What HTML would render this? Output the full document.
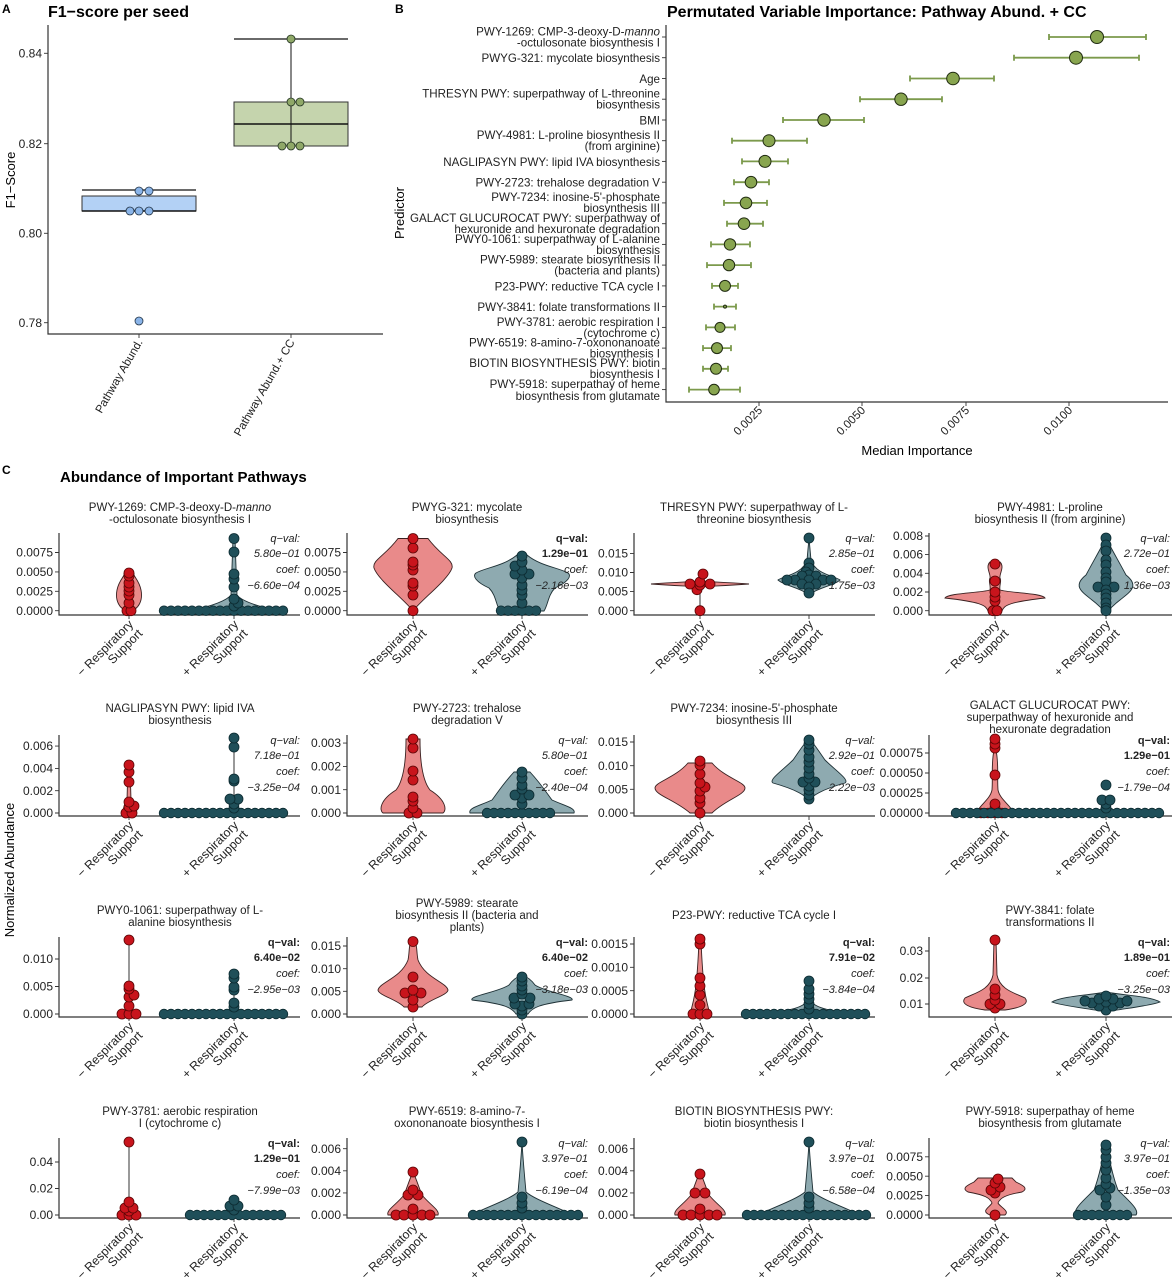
<!DOCTYPE html>
<html><head><meta charset="utf-8"><style>
body{margin:0;background:#fff}
svg{display:block;font-family:"Liberation Sans",sans-serif}
.tk{font-size:12px;fill:#222;text-anchor:end}
.ti{font-size:11.5px;fill:#222;text-anchor:middle}
.lb{font-size:12.3px;fill:#222;text-anchor:end}
.lbA{font-size:11.5px;fill:#222;text-anchor:end}
.q{font-size:11px;fill:#222;text-anchor:end;font-style:italic}
.qb{font-size:11px;fill:#222;text-anchor:end;font-weight:bold}
.ax{stroke:#333;stroke-width:1.2;fill:none}
.rv{fill:#e98a8a;stroke:#3a2020;stroke-width:0.9}
.tv{fill:#8eaab0;stroke:#1d3035;stroke-width:0.9}
.zr{stroke:#0c2a30;stroke-width:10.4;stroke-linecap:round;stroke-dasharray:0 7}
.zf{stroke:#1f4f59;stroke-width:8.8;stroke-linecap:round;stroke-dasharray:0 7}
.tl{stroke:#333;stroke-width:0.9}
.eb{stroke:#7c9a4c;stroke-width:1.8;fill:none}
.bp{fill:#88a54f;stroke:#1f2a10;stroke-width:1}
</style></head><body>
<svg width="1175" height="1279" viewBox="0 0 1175 1279" xmlns="http://www.w3.org/2000/svg">
<defs>
<circle id="r" cx="0" cy="0" r="5" fill="#c8141c" stroke="#5a0505" stroke-width="0.8"/>
<circle id="t" cx="0" cy="0" r="5" fill="#1f4f59" stroke="#0c2a30" stroke-width="0.8"/>
</defs>

<!-- PANEL A -->
<text x="2" y="13" font-size="12" font-weight="bold">A</text>
<text x="48" y="17" font-size="16" font-weight="bold">F1−score per seed</text>
<path class="ax" d="M48,25 V334 H383"/>
<g class="tl"><line x1="44" y1="53.3" x2="48" y2="53.3"/><line x1="44" y1="143.7" x2="48" y2="143.7"/><line x1="44" y1="233.3" x2="48" y2="233.3"/><line x1="44" y1="322.7" x2="48" y2="322.7"/><line x1="139" y1="334" x2="139" y2="338"/><line x1="291" y1="334" x2="291" y2="338"/></g>
<text class="tk" x="42" y="57.5">0.84</text><text class="tk" x="42" y="148">0.82</text><text class="tk" x="42" y="237.5">0.80</text><text class="tk" x="42" y="327">0.78</text>
<text transform="translate(15,180) rotate(-90)" font-size="13" text-anchor="middle">F1−Score</text>
<line x1="82" y1="190" x2="196" y2="190" stroke="#111" stroke-width="1.2"/>
<line x1="139" y1="190" x2="139" y2="196" stroke="#111"/>
<rect x="82" y="196" width="114" height="15" fill="#b3d1f5" stroke="#333" stroke-width="1"/>
<line x1="82" y1="211" x2="196" y2="211" stroke="#111" stroke-width="1.6"/>
<g fill="#8ab4e8" stroke="#234" stroke-width="0.8"><circle cx="139" cy="191" r="4"/><circle cx="149" cy="191" r="4"/><circle cx="130" cy="211" r="4"/><circle cx="139" cy="211" r="4"/><circle cx="149" cy="211" r="4"/><circle cx="139" cy="321" r="4"/></g>
<line x1="234" y1="39" x2="348" y2="39" stroke="#111" stroke-width="1.2"/>
<rect x="234" y="102" width="114" height="44" fill="#c5d4ad" stroke="#333" stroke-width="1"/>
<line x1="291" y1="39" x2="291" y2="146" stroke="#111"/>
<line x1="234" y1="124" x2="348" y2="124" stroke="#111" stroke-width="1.4"/>
<g fill="#8fa868" stroke="#232" stroke-width="0.8"><circle cx="291" cy="39" r="4"/><circle cx="291" cy="102" r="4"/><circle cx="300" cy="102" r="4"/><circle cx="282" cy="146" r="4"/><circle cx="291" cy="146" r="4"/><circle cx="300" cy="146" r="4"/></g>
<text class="lbA" transform="translate(143,342) rotate(-60)">Pathway Abund.</text>
<text class="lbA" transform="translate(295,342) rotate(-60)">Pathway Abund.+ CC</text>

<!-- PANEL B -->
<text x="395" y="13" font-size="12" font-weight="bold">B</text>
<text x="667" y="17" font-size="16" font-weight="bold">Permutated Variable Importance: Pathway Abund. + CC</text>
<path class="ax" d="M666,25 V402 H1168"/>
<text transform="translate(404,213) rotate(-90)" font-size="13" text-anchor="middle">Predictor</text>
<g class="tl">
<line x1="662" y1="37" x2="666" y2="37"/><line x1="662" y1="57.7" x2="666" y2="57.7"/><line x1="662" y1="78.5" x2="666" y2="78.5"/><line x1="662" y1="99.2" x2="666" y2="99.2"/><line x1="662" y1="120" x2="666" y2="120"/><line x1="662" y1="140.7" x2="666" y2="140.7"/><line x1="662" y1="161.4" x2="666" y2="161.4"/><line x1="662" y1="182.2" x2="666" y2="182.2"/><line x1="662" y1="202.9" x2="666" y2="202.9"/><line x1="662" y1="223.7" x2="666" y2="223.7"/><line x1="662" y1="244.4" x2="666" y2="244.4"/><line x1="662" y1="265.1" x2="666" y2="265.1"/><line x1="662" y1="285.9" x2="666" y2="285.9"/><line x1="662" y1="306.6" x2="666" y2="306.6"/><line x1="662" y1="327.4" x2="666" y2="327.4"/><line x1="662" y1="348.1" x2="666" y2="348.1"/><line x1="662" y1="368.8" x2="666" y2="368.8"/><line x1="662" y1="389.6" x2="666" y2="389.6"/>
<line x1="759" y1="402" x2="759" y2="406"/><line x1="862" y1="402" x2="862" y2="406"/><line x1="966" y1="402" x2="966" y2="406"/><line x1="1069" y1="402" x2="1069" y2="406"/>
</g>
<g font-size="11.6" text-anchor="end" fill="#222">
<text x="660" y="35.5">PWY-1269: CMP-3-deoxy-D-<tspan font-style="italic">manno</tspan></text><text x="660" y="46.5">-octulosonate biosynthesis I</text>
<text x="660" y="62">PWYG-321: mycolate biosynthesis</text>
<text x="660" y="83">Age</text>
<text x="660" y="97.5">THRESYN PWY: superpathway of L-threonine</text><text x="660" y="108.5">biosynthesis</text>
<text x="660" y="124.5">BMI</text>
<text x="660" y="139">PWY-4981: L-proline biosynthesis II</text><text x="660" y="150">(from arginine)</text>
<text x="660" y="166">NAGLIPASYN PWY: lipid IVA biosynthesis</text>
<text x="660" y="186.5">PWY-2723: trehalose degradation V</text>
<text x="660" y="201">PWY-7234: inosine-5'-phosphate</text><text x="660" y="212">biosynthesis III</text>
<text x="660" y="222">GALACT GLUCUROCAT PWY: superpathway of</text><text x="660" y="233">hexuronide and hexuronate degradation</text>
<text x="660" y="243">PWY0-1061: superpathway of L-alanine</text><text x="660" y="254">biosynthesis</text>
<text x="660" y="263.5">PWY-5989: stearate biosynthesis II</text><text x="660" y="274.5">(bacteria and plants)</text>
<text x="660" y="290.5">P23-PWY: reductive TCA cycle I</text>
<text x="660" y="311">PWY-3841: folate transformations II</text>
<text x="660" y="326">PWY-3781: aerobic respiration I</text><text x="660" y="337">(cytochrome c)</text>
<text x="660" y="346.5">PWY-6519: 8-amino-7-oxononanoate</text><text x="660" y="357.5">biosynthesis I</text>
<text x="660" y="367">BIOTIN BIOSYNTHESIS PWY: biotin</text><text x="660" y="378">biosynthesis I</text>
<text x="660" y="388">PWY-5918: superpathay of heme</text><text x="660" y="400">biosynthesis from glutamate</text>
</g>
<g class="eb">
<path d="M1049,37H1146M1049,34v6M1146,34v6"/>
<path d="M1014,57.7H1139M1014,54.7v6M1139,54.7v6"/>
<path d="M910,78.5H994M910,75.5v6M994,75.5v6"/>
<path d="M860,99.2H942M860,96.2v6M942,96.2v6"/>
<path d="M783,120H864M783,117v6M864,117v6"/>
<path d="M732,140.7H807M732,137.7v6M807,137.7v6"/>
<path d="M742,161.4H788M742,158.4v6M788,158.4v6"/>
<path d="M734,182.2H769M734,179.2v6M769,179.2v6"/>
<path d="M724,202.9H767M724,199.9v6M767,199.9v6"/>
<path d="M727,223.7H763M727,220.7v6M763,220.7v6"/>
<path d="M711,244.4H750M711,241.4v6M750,241.4v6"/>
<path d="M707,265.1H751M707,262.1v6M751,262.1v6"/>
<path d="M712,285.9H738M712,282.9v6M738,282.9v6"/>
<path d="M714,306.6H736M714,303.6v6M736,303.6v6"/>
<path d="M706,327.4H735M706,324.4v6M735,324.4v6"/>
<path d="M703,348.1H731M703,345.1v6M731,345.1v6"/>
<path d="M703,368.8H728M703,365.8v6M728,365.8v6"/>
<path d="M689,389.6H740M689,386.6v6M740,386.6v6"/>
</g>
<g class="bp">
<circle cx="1097" cy="37" r="6.5"/><circle cx="1076" cy="57.7" r="6.5"/><circle cx="953" cy="78.5" r="6.3"/><circle cx="901" cy="99.2" r="6.2"/><circle cx="824" cy="120" r="6.2"/><circle cx="769" cy="140.7" r="6"/><circle cx="765" cy="161.4" r="6"/><circle cx="751" cy="182.2" r="5.8"/><circle cx="746" cy="202.9" r="5.8"/><circle cx="744" cy="223.7" r="5.8"/><circle cx="730" cy="244.4" r="5.7"/><circle cx="729" cy="265.1" r="5.7"/><circle cx="725" cy="285.9" r="5.5"/><circle cx="725" cy="306.6" r="1.5"/><circle cx="720" cy="327.4" r="5"/><circle cx="717" cy="348.1" r="5.5"/><circle cx="716" cy="368.8" r="5.5"/><circle cx="714" cy="389.6" r="5.3"/>
</g>
<text class="lbA" transform="translate(763,411) rotate(-45)">0.0025</text>
<text class="lbA" transform="translate(866,411) rotate(-45)">0.0050</text>
<text class="lbA" transform="translate(970,411) rotate(-45)">0.0075</text>
<text class="lbA" transform="translate(1073,411) rotate(-45)">0.0100</text>
<text x="917" y="455" font-size="13" text-anchor="middle">Median Importance</text>

<!-- PANEL C -->
<text x="2" y="474" font-size="12" font-weight="bold">C</text>
<text x="60" y="482" font-size="15" font-weight="bold">Abundance of Important Pathways</text>
<text transform="translate(14,870) rotate(-90)" font-size="13" text-anchor="middle">Normalized Abundance</text>

<g class="ax">
<path d="M59,533V615H300"/><path d="M347,533V615H588"/><path d="M634,533V615H875"/><path d="M929,533V615H1172"/>
<path d="M59,735V816H300"/><path d="M347,735V816H588"/><path d="M634,735V816H875"/><path d="M929,735V816H1172"/>
<path d="M59,937V1017H300"/><path d="M347,937V1017H588"/><path d="M634,937V1017H875"/><path d="M929,937V1017H1172"/>
<path d="M59,1138V1218H300"/><path d="M347,1138V1218H588"/><path d="M634,1138V1218H875"/><path d="M929,1138V1218H1172"/>
</g>
<g class="tl">
<path d="M129,615v4M234,615v4M413,615v4M522,615v4M700,615v4M809,615v4M995,615v4M1106,615v4"/>
<path d="M129,816v4M234,816v4M413,816v4M522,816v4M700,816v4M809,816v4M995,816v4M1106,816v4"/>
<path d="M129,1017v4M234,1017v4M413,1017v4M522,1017v4M700,1017v4M809,1017v4M995,1017v4M1106,1017v4"/>
<path d="M129,1218v4M234,1218v4M413,1218v4M522,1218v4M700,1218v4M809,1218v4M995,1218v4M1106,1218v4"/>
<path d="M55,610.7h4M55,591.3h4M55,571.9h4M55,552.5h4M343,610.7h4M343,591.3h4M343,571.9h4M343,552.5h4M630,610.7h4M630,591.6h4M630,572.5h4M630,553.4h4M925,610.7h4M925,592h4M925,573.3h4M925,554.6h4M925,536h4"/>
<path d="M55,813h4M55,790.7h4M55,768.4h4M55,746.1h4M343,813h4M343,789.7h4M343,766.4h4M343,743.1h4M630,813h4M630,789.3h4M630,765.7h4M630,742h4M925,813h4M925,793h4M925,773h4M925,753h4"/>
<path d="M55,1014h4M55,986.5h4M55,959h4M343,1014h4M343,991.3h4M343,968.7h4M343,946h4M630,1014h4M630,990.7h4M630,967.3h4M630,944h4M925,1004h4M925,978h4M925,951h4"/>
<path d="M55,1215h4M55,1188.5h4M55,1162h4M343,1215h4M343,1192.9h4M343,1170.8h4M343,1148.7h4M630,1215h4M630,1192.9h4M630,1170.8h4M630,1148.7h4M925,1215h4M925,1195.6h4M925,1176.2h4M925,1156.8h4"/>
</g>
<g class="tk">
<text x="53" y="615">0.0000</text><text x="53" y="595.5">0.0025</text><text x="53" y="576">0.0050</text><text x="53" y="556.5">0.0075</text>
<text x="341" y="615">0.0000</text><text x="341" y="595.5">0.0025</text><text x="341" y="576">0.0050</text><text x="341" y="556.5">0.0075</text>
<text x="628" y="615">0.000</text><text x="628" y="595.7">0.005</text><text x="628" y="576.6">0.010</text><text x="628" y="557.5">0.015</text>
<text x="923" y="615">0.000</text><text x="923" y="596">0.002</text><text x="923" y="577.4">0.004</text><text x="923" y="558.7">0.006</text><text x="923" y="540">0.008</text>
<text x="53" y="817">0.000</text><text x="53" y="794.8">0.002</text><text x="53" y="772.5">0.004</text><text x="53" y="750.2">0.006</text>
<text x="341" y="817">0.000</text><text x="341" y="793.8">0.001</text><text x="341" y="770.5">0.002</text><text x="341" y="747.2">0.003</text>
<text x="628" y="817">0.000</text><text x="628" y="793.4">0.005</text><text x="628" y="769.8">0.010</text><text x="628" y="746">0.015</text>
<text x="923" y="817">0.00000</text><text x="923" y="797">0.00025</text><text x="923" y="777">0.00050</text><text x="923" y="757">0.00075</text>
<text x="53" y="1018">0.000</text><text x="53" y="990.6">0.005</text><text x="53" y="963">0.010</text>
<text x="341" y="1018">0.000</text><text x="341" y="995.4">0.005</text><text x="341" y="972.8">0.010</text><text x="341" y="950">0.015</text>
<text x="628" y="1018">0.0000</text><text x="628" y="994.8">0.0005</text><text x="628" y="971.4">0.0010</text><text x="628" y="948">0.0015</text>
<text x="923" y="1008">0.01</text><text x="923" y="982">0.02</text><text x="923" y="955">0.03</text>
<text x="53" y="1219">0.00</text><text x="53" y="1192.6">0.02</text><text x="53" y="1166">0.04</text>
<text x="341" y="1219">0.000</text><text x="341" y="1197">0.002</text><text x="341" y="1174.9">0.004</text><text x="341" y="1152.8">0.006</text>
<text x="628" y="1219">0.000</text><text x="628" y="1197">0.002</text><text x="628" y="1174.9">0.004</text><text x="628" y="1152.8">0.006</text>
<text x="923" y="1219">0.0000</text><text x="923" y="1199.7">0.0025</text><text x="923" y="1180.3">0.0050</text><text x="923" y="1160.9">0.0075</text>
</g>

<g class="ti">
<text x="180" y="511">PWY-1269: CMP-3-deoxy-D-<tspan font-style="italic">manno</tspan></text><text x="180" y="523">-octulosonate biosynthesis I</text>
<text x="467" y="511">PWYG-321: mycolate</text><text x="467" y="523">biosynthesis</text>
<text x="754" y="511">THRESYN PWY: superpathway of L-</text><text x="754" y="523">threonine biosynthesis</text>
<text x="1050" y="511">PWY-4981: L-proline</text><text x="1050" y="523">biosynthesis II (from arginine)</text>
<text x="180" y="712">NAGLIPASYN PWY: lipid IVA</text><text x="180" y="724">biosynthesis</text>
<text x="467" y="712">PWY-2723: trehalose</text><text x="467" y="724">degradation V</text>
<text x="754" y="712">PWY-7234: inosine-5'-phosphate</text><text x="754" y="724">biosynthesis III</text>
<text x="1050" y="709">GALACT GLUCUROCAT PWY:</text><text x="1050" y="721">superpathway of hexuronide and</text><text x="1050" y="733">hexuronate degradation</text>
<text x="180" y="914">PWY0-1061: superpathway of L-</text><text x="180" y="926">alanine biosynthesis</text>
<text x="467" y="907">PWY-5989: stearate</text><text x="467" y="919">biosynthesis II (bacteria and</text><text x="467" y="931">plants)</text>
<text x="754" y="919">P23-PWY: reductive TCA cycle I</text>
<text x="1050" y="914">PWY-3841: folate</text><text x="1050" y="926">transformations II</text>
<text x="180" y="1115">PWY-3781: aerobic respiration</text><text x="180" y="1127">I (cytochrome c)</text>
<text x="467" y="1115">PWY-6519: 8-amino-7-</text><text x="467" y="1127">oxononanoate biosynthesis I</text>
<text x="754" y="1115">BIOTIN BIOSYNTHESIS PWY:</text><text x="754" y="1127">biotin biosynthesis I</text>
<text x="1050" y="1115">PWY-5918: superpathay of heme</text><text x="1050" y="1127">biosynthesis from glutamate</text>
</g>

<!-- P1 -->
<path class="rv" d="M129,611 C119,610 115,600 117,590 C119,580 125,576 124,574 L134,574 C133,576 139,580 141,590 C143,600 139,610 129,611Z"/>
<path class="tv" d="M190,611 Q225,603 231,595 L233,539 L235,539 L237,595 Q243,603 278,611 Z"/>
<g><use href="#r" x="127" y="610.7"/><use href="#r" x="131" y="610.7"/><use href="#r" x="129" y="603"/><use href="#r" x="129" y="595"/><use href="#r" x="129" y="591"/><use href="#r" x="129" y="587"/><use href="#r" x="129" y="583"/><use href="#r" x="129" y="576"/><use href="#r" x="129" y="573"/></g>
<line class="zr" x1="164" y1="610.7" x2="290" y2="610.7"/><line class="zf" x1="164" y1="610.7" x2="290" y2="610.7"/>
<g><use href="#t" x="234" y="606"/><use href="#t" x="238" y="603"/><use href="#t" x="234" y="599"/><use href="#t" x="234" y="587"/><use href="#t" x="234" y="579"/><use href="#t" x="234" y="574"/><use href="#t" x="234" y="552"/><use href="#t" x="234" y="538.5"/></g>
<!-- P2 -->
<path class="rv" d="M413,611 C405,600 378,580 374,568 C372,560 385,556 398,538.5 L428,538.5 C441,556 454,560 452,568 C448,580 421,600 413,611Z"/>
<path class="tv" d="M500,611 L544,611 C548,605 548,595 555,588 C568,582 572,576 568,573 C560,568 540,566 527,555 L517,555 C504,566 484,568 476,573 C472,576 476,582 489,588 C496,595 496,605 500,611Z"/>
<g><use href="#r" x="413" y="610.7"/><use href="#r" x="413" y="595"/><use href="#r" x="413" y="586"/><use href="#r" x="413" y="583"/><use href="#r" x="413" y="570"/><use href="#r" x="413" y="565"/><use href="#r" x="413" y="562"/><use href="#r" x="413" y="548"/><use href="#r" x="413" y="538.5"/></g>
<line class="zr" x1="501" y1="610.7" x2="543" y2="610.7"/><line class="zf" x1="501" y1="610.7" x2="543" y2="610.7"/>
<g><use href="#t" x="522" y="603"/><use href="#t" x="522" y="595"/><use href="#t" x="522" y="590"/><use href="#t" x="522" y="585"/><use href="#t" x="522" y="578"/><use href="#t" x="515" y="574"/><use href="#t" x="529" y="574"/><use href="#t" x="522" y="570"/><use href="#t" x="515" y="566"/><use href="#t" x="522" y="562"/><use href="#t" x="522" y="556"/></g>
<!-- P3 -->
<line x1="700" y1="574" x2="700" y2="611" stroke="#333"/>
<path class="rv" d="M651,584 C680,582 690,582 700,581 C710,582 720,582 749,584 C720,586 710,586 700,587 C690,586 680,586 651,584Z"/>
<g><use href="#r" x="700" y="610.7"/><use href="#r" x="697" y="589.7"/><use href="#r" x="690" y="584"/><use href="#r" x="710" y="584"/><use href="#r" x="700" y="585"/><use href="#r" x="700" y="582"/><use href="#r" x="703" y="574"/></g>
<path class="tv" d="M809,538 L811,560 C815,574 835,576 840,580 C835,585 818,588 812,593 L809,594 L806,593 C800,588 783,585 778,580 C783,576 803,574 807,560 Z"/>
<g><use href="#t" x="809" y="538"/><use href="#t" x="809" y="563"/><use href="#t" x="809" y="568"/><use href="#t" x="806" y="572"/><use href="#t" x="809" y="575"/><use href="#t" x="816" y="576"/><use href="#t" x="802" y="576"/><use href="#t" x="795" y="580"/><use href="#t" x="823" y="580"/><use href="#t" x="787" y="580"/><use href="#t" x="831" y="580"/><use href="#t" x="809" y="580"/><use href="#t" x="802" y="584"/><use href="#t" x="816" y="584"/><use href="#t" x="809" y="587"/><use href="#t" x="809" y="593"/></g>
<!-- P4 -->
<path class="rv" d="M988,611 L1002,611 C1004,605 1010,602 1045,598 C1042,593 1010,593 1000,590 C999,585 1002,581 1000,578 C999,574 1005,567 1000,562 L990,562 C985,567 991,574 990,578 C988,581 991,585 990,590 C980,593 948,593 945,598 C980,602 986,605 988,611Z"/>
<g><use href="#r" x="993" y="610.7"/><use href="#r" x="997" y="610.7"/><use href="#r" x="995" y="601"/><use href="#r" x="995" y="597"/><use href="#r" x="995" y="592"/><use href="#r" x="995" y="581"/><use href="#r" x="995" y="564"/></g>
<path class="tv" d="M1106,538 C1112,550 1118,560 1126,575 C1140,586 1130,592 1120,600 C1112,606 1110,610 1106,611 C1102,610 1100,606 1092,600 C1082,592 1072,586 1086,575 C1094,560 1100,550 1106,538Z"/>
<g><use href="#t" x="1106" y="538"/><use href="#t" x="1106" y="545"/><use href="#t" x="1106" y="551"/><use href="#t" x="1106" y="560"/><use href="#t" x="1106" y="565"/><use href="#t" x="1106" y="572"/><use href="#t" x="1106" y="578"/><use href="#t" x="1106" y="582"/><use href="#t" x="1098" y="587"/><use href="#t" x="1114" y="587"/><use href="#t" x="1106" y="590"/><use href="#t" x="1106" y="594"/><use href="#t" x="1106" y="598"/><use href="#t" x="1106" y="603"/><use href="#t" x="1106" y="608"/><use href="#t" x="1106" y="610.7"/></g>

<!-- P5 -->
<path class="rv" d="M129,813 C120,812 124,806 127,800 L128,765 L130,765 L131,800 C134,806 138,812 129,813Z"/>
<g><use href="#r" x="126" y="813"/><use href="#r" x="132" y="813"/><use href="#r" x="129" y="807"/><use href="#r" x="134" y="806"/><use href="#r" x="129" y="802"/><use href="#r" x="129" y="782"/><use href="#r" x="129" y="772"/><use href="#r" x="129" y="765"/></g>
<line x1="234" y1="738" x2="234" y2="813" stroke="#333"/>
<line class="zr" x1="164" y1="813" x2="290" y2="813"/><line class="zf" x1="164" y1="813" x2="290" y2="813"/>
<g><use href="#t" x="234" y="808"/><use href="#t" x="234" y="804"/><use href="#t" x="238" y="799"/><use href="#t" x="230" y="799"/><use href="#t" x="234" y="781"/><use href="#t" x="234" y="779"/><use href="#t" x="234" y="747"/><use href="#t" x="234" y="738"/></g>
<!-- P6 -->
<path class="rv" d="M383,813 L443,813 C447,810 446,800 430,790 C422,780 420,760 420,739 L406,739 C406,760 404,780 396,790 C380,800 379,810 383,813Z"/>
<g><use href="#r" x="409" y="813"/><use href="#r" x="417" y="813"/><use href="#r" x="413" y="808"/><use href="#r" x="413" y="801"/><use href="#r" x="413" y="797"/><use href="#r" x="413" y="780"/><use href="#r" x="413" y="771"/><use href="#r" x="413" y="748"/><use href="#r" x="413" y="739"/></g>
<path class="tv" d="M470,813 L574,813 C576,808 565,806 552,800 C548,795 542,785 530,772 L514,772 C502,785 496,795 492,800 C479,806 468,808 470,813Z"/>
<line class="zr" x1="487" y1="813" x2="557" y2="813"/><line class="zf" x1="487" y1="813" x2="557" y2="813"/>
<g><use href="#t" x="522" y="804"/><use href="#t" x="522" y="798"/><use href="#t" x="515" y="795"/><use href="#t" x="529" y="795"/><use href="#t" x="522" y="789"/><use href="#t" x="522" y="785"/><use href="#t" x="522" y="778"/><use href="#t" x="522" y="772"/></g>
<!-- P7 -->
<path class="rv" d="M690,813 L712,813 C725,800 745,795 745,788 C745,782 725,778 712,763 L688,763 C675,778 655,782 655,788 C655,795 675,800 690,813Z"/>
<g><use href="#r" x="700" y="813"/><use href="#r" x="700" y="803"/><use href="#r" x="700" y="798"/><use href="#r" x="700" y="791"/><use href="#r" x="705" y="787"/><use href="#r" x="700" y="783"/><use href="#r" x="700" y="774"/><use href="#r" x="700" y="765"/><use href="#r" x="700" y="761"/></g>
<path class="tv" d="M809,799.8 C813,796 820,790 845,783 C850,780 835,770 825,760 C818,750 813,742 809,739.6 C805,742 800,750 793,760 C783,770 768,780 773,783 C798,790 805,796 809,799.8Z"/>
<g><use href="#t" x="809" y="799"/><use href="#t" x="809" y="795"/><use href="#t" x="809" y="790"/><use href="#t" x="809" y="786"/><use href="#t" x="803" y="782"/><use href="#t" x="815" y="782"/><use href="#t" x="809" y="778"/><use href="#t" x="809" y="774"/><use href="#t" x="809" y="768"/><use href="#t" x="809" y="762"/><use href="#t" x="809" y="757"/><use href="#t" x="809" y="750"/><use href="#t" x="809" y="744"/><use href="#t" x="809" y="740"/></g>
<!-- P8 -->
<line x1="995" y1="738" x2="995" y2="813" stroke="#333"/>
<path class="rv" d="M977,813 L1013,813 C1012,806 1000,800 998,790 C997,775 999,765 996,750 L994,750 C991,765 993,775 992,790 C990,800 978,806 977,813Z"/>
<line class="zr" x1="981" y1="813" x2="1009" y2="813" style="stroke:#5a0505"/><line class="zf" x1="981" y1="813" x2="1009" y2="813" style="stroke:#c8141c"/>
<g><use href="#r" x="995" y="808"/><use href="#r" x="995" y="804"/><use href="#r" x="995" y="775"/><use href="#r" x="995" y="748"/><use href="#r" x="995" y="744"/><use href="#r" x="995" y="739"/></g>
<line class="zr" x1="956" y1="813" x2="1166" y2="813"/><line class="zf" x1="956" y1="813" x2="1166" y2="813"/>
<g><use href="#t" x="1106" y="808"/><use href="#t" x="1106" y="804"/><use href="#t" x="1102" y="800"/><use href="#t" x="1110" y="800"/><use href="#t" x="1106" y="785"/></g>

<!-- P9 -->
<line x1="129" y1="940" x2="129" y2="1014" stroke="#333"/>
<g><use href="#r" x="122" y="1014"/><use href="#r" x="129" y="1014"/><use href="#r" x="136" y="1014"/><use href="#r" x="129" y="1006"/><use href="#r" x="129" y="997"/><use href="#r" x="134" y="995"/><use href="#r" x="129" y="989"/><use href="#r" x="129" y="986"/><use href="#r" x="129" y="940"/></g>
<line x1="234" y1="974" x2="234" y2="1014" stroke="#333"/>
<line class="zr" x1="164" y1="1014" x2="290" y2="1014"/><line class="zf" x1="164" y1="1014" x2="290" y2="1014"/>
<g><use href="#t" x="234" y="1007"/><use href="#t" x="234" y="1003"/><use href="#t" x="234" y="990"/><use href="#t" x="234" y="987"/><use href="#t" x="234" y="978"/><use href="#t" x="234" y="974"/></g>
<!-- P10 -->
<path class="rv" d="M404,1007 L422,1007 C428,1000 448,995 448,990 C446,982 425,978 418,960 C416,950 418,944 413,941 C408,944 410,950 408,960 C401,978 380,982 378,990 C378,995 398,1000 404,1007Z"/>
<g><use href="#r" x="413" y="1007"/><use href="#r" x="413" y="1000"/><use href="#r" x="405" y="993"/><use href="#r" x="421" y="993"/><use href="#r" x="413" y="990"/><use href="#r" x="413" y="977"/><use href="#r" x="413" y="941.5"/></g>
<path class="tv" d="M516,1014 L528,1014 C532,1008 538,1004 572,1000 C575,996 545,992 535,985 C530,978 525,976 522,975 C519,976 514,978 509,985 C499,992 469,996 472,1000 C506,1004 512,1008 516,1014Z"/>
<g><use href="#t" x="522" y="1014"/><use href="#t" x="522" y="1010"/><use href="#t" x="522" y="1006"/><use href="#t" x="515" y="1004"/><use href="#t" x="529" y="1004"/><use href="#t" x="514" y="998"/><use href="#t" x="530" y="998"/><use href="#t" x="522" y="994"/><use href="#t" x="522" y="990"/><use href="#t" x="522" y="986"/><use href="#t" x="522" y="981"/><use href="#t" x="522" y="977"/></g>
<!-- P11 -->
<path class="rv" d="M690,1014 L710,1014 C706,1000 703,990 701,940 L699,940 C697,990 694,1000 690,1014Z"/>
<g><use href="#r" x="693" y="1014"/><use href="#r" x="700" y="1014"/><use href="#r" x="707" y="1014"/><use href="#r" x="700" y="1005"/><use href="#r" x="700" y="995"/><use href="#r" x="700" y="986"/><use href="#r" x="700" y="978"/><use href="#r" x="700" y="944"/><use href="#r" x="700" y="939"/></g>
<path class="tv" d="M760,1014 Q805,1010 807,1000 L809,980 L811,1000 Q813,1010 858,1014Z"/>
<line class="zr" x1="746" y1="1014" x2="872" y2="1014"/><line class="zf" x1="746" y1="1014" x2="872" y2="1014"/>
<g><use href="#t" x="809" y="1009"/><use href="#t" x="809" y="1004"/><use href="#t" x="809" y="999"/><use href="#t" x="809" y="994"/><use href="#t" x="809" y="989"/><use href="#t" x="809" y="981"/></g>
<!-- P12 -->
<path class="rv" d="M985,1010 L1005,1010 C1020,1008 1030,1004 1025,998 C1015,993 1000,990 997,975 L996,940 L994,940 L993,975 C990,990 975,993 965,998 C960,1004 970,1008 985,1010Z"/>
<g><use href="#r" x="995" y="1008"/><use href="#r" x="990" y="1004"/><use href="#r" x="1000" y="1004"/><use href="#r" x="995" y="1000"/><use href="#r" x="995" y="995"/><use href="#r" x="995" y="989"/><use href="#r" x="995" y="940"/></g>
<path class="tv" d="M1106,992 C1120,995 1150,996 1160,1002 C1150,1006 1120,1009 1106,1012 C1092,1009 1062,1006 1052,1002 C1062,996 1092,995 1106,992Z"/>
<g><use href="#t" x="1106" y="1010"/><use href="#t" x="1099" y="1006"/><use href="#t" x="1113" y="1006"/><use href="#t" x="1092" y="1003"/><use href="#t" x="1120" y="1003"/><use href="#t" x="1106" y="1002"/><use href="#t" x="1099" y="999"/><use href="#t" x="1113" y="999"/><use href="#t" x="1106" y="996"/><use href="#t" x="1127" y="1001"/><use href="#t" x="1085" y="1001"/></g>

<!-- P13 -->
<line x1="129" y1="1142" x2="129" y2="1215" stroke="#333"/>
<g><use href="#r" x="122" y="1215"/><use href="#r" x="129" y="1215"/><use href="#r" x="136" y="1215"/><use href="#r" x="129" y="1211"/><use href="#r" x="125" y="1208"/><use href="#r" x="133" y="1208"/><use href="#r" x="129" y="1202"/><use href="#r" x="129" y="1142"/></g>
<line class="zr" x1="190" y1="1215" x2="284" y2="1215"/><line class="zf" x1="190" y1="1215" x2="284" y2="1215"/>
<g><use href="#t" x="234" y="1210"/><use href="#t" x="230" y="1206"/><use href="#t" x="238" y="1206"/><use href="#t" x="234" y="1200"/></g>
<!-- P14 -->
<path class="rv" d="M388,1215 L438,1215 C440,1210 430,1205 422,1195 C418,1185 416,1178 413,1172 C410,1178 408,1185 404,1195 C396,1205 386,1210 388,1215Z"/>
<g><use href="#r" x="396" y="1215"/><use href="#r" x="404" y="1215"/><use href="#r" x="413" y="1215"/><use href="#r" x="422" y="1215"/><use href="#r" x="430" y="1215"/><use href="#r" x="413" y="1209"/><use href="#r" x="408" y="1195"/><use href="#r" x="418" y="1195"/><use href="#r" x="413" y="1190"/><use href="#r" x="413" y="1172"/></g>
<path class="tv" d="M472,1215 L572,1215 C565,1210 535,1200 526,1192 C524,1170 523,1160 522,1142 C521,1160 520,1170 518,1192 C509,1200 479,1210 472,1215Z"/>
<line class="zr" x1="473" y1="1215" x2="585" y2="1215"/><line class="zf" x1="473" y1="1215" x2="585" y2="1215"/>
<g><use href="#t" x="522" y="1208"/><use href="#t" x="522" y="1203"/><use href="#t" x="522" y="1197"/><use href="#t" x="522" y="1142"/></g>
<!-- P15 -->
<path class="rv" d="M675,1215 L725,1215 C727,1210 717,1205 709,1195 C705,1185 703,1178 700,1172 C697,1178 695,1185 691,1195 C683,1205 673,1210 675,1215Z"/>
<g><use href="#r" x="683" y="1215"/><use href="#r" x="691" y="1215"/><use href="#r" x="700" y="1215"/><use href="#r" x="709" y="1215"/><use href="#r" x="717" y="1215"/><use href="#r" x="700" y="1209"/><use href="#r" x="695" y="1193"/><use href="#r" x="705" y="1193"/><use href="#r" x="700" y="1174"/></g>
<path class="tv" d="M759,1215 L859,1215 C852,1210 822,1200 813,1192 C811,1170 810,1160 809,1142 C808,1160 807,1170 805,1192 C796,1200 766,1210 759,1215Z"/>
<line class="zr" x1="747" y1="1215" x2="873" y2="1215"/><line class="zf" x1="747" y1="1215" x2="873" y2="1215"/>
<g><use href="#t" x="809" y="1208"/><use href="#t" x="809" y="1203"/><use href="#t" x="809" y="1197"/><use href="#t" x="809" y="1142"/></g>
<!-- P16 -->
<path class="rv" d="M990,1215 L1005,1215 C1010,1211 1000,1207 998,1203 C1000,1198 1005,1195 1022,1192 C1030,1188 1020,1184 1016,1182 L1012,1178 L978,1178 L974,1182 C970,1184 960,1188 968,1192 C985,1195 990,1198 992,1203 C990,1207 980,1211 990,1215Z"/>
<g><use href="#r" x="995" y="1215"/><use href="#r" x="995" y="1193"/><use href="#r" x="991" y="1190"/><use href="#r" x="1000" y="1187"/><use href="#r" x="995" y="1183"/><use href="#r" x="998" y="1179"/></g>
<path class="tv" d="M1076,1215 L1136,1215 C1140,1210 1128,1200 1118,1190 C1112,1175 1110,1160 1106,1145 C1102,1160 1100,1175 1094,1190 C1084,1200 1072,1210 1076,1215Z"/>
<line class="zr" x1="1078" y1="1215" x2="1134" y2="1215"/><line class="zf" x1="1078" y1="1215" x2="1134" y2="1215"/>
<g><use href="#t" x="1106" y="1205"/><use href="#t" x="1106" y="1197"/><use href="#t" x="1100" y="1190"/><use href="#t" x="1110" y="1188"/><use href="#t" x="1106" y="1184"/><use href="#t" x="1106" y="1178"/><use href="#t" x="1106" y="1170"/><use href="#t" x="1106" y="1163"/><use href="#t" x="1106" y="1157"/><use href="#t" x="1106" y="1150"/><use href="#t" x="1106" y="1145"/></g>

<g>
<text class="q" x="300" y="542">q−val:</text><text class="q" x="300" y="557">5.80e−01</text><text class="q" x="300" y="573">coef:</text><text class="q" x="300" y="589">−6.60e−04</text>
<text class="qb" x="588" y="542">q−val:</text><text class="qb" x="588" y="557">1.29e−01</text><text class="q" x="588" y="573">coef:</text><text class="q" x="588" y="589">−2.16e−03</text>
<text class="q" x="875" y="542">q−val:</text><text class="q" x="875" y="557">2.85e−01</text><text class="q" x="875" y="573">coef:</text><text class="q" x="875" y="589">1.75e−03</text>
<text class="q" x="1170" y="542">q−val:</text><text class="q" x="1170" y="557">2.72e−01</text><text class="q" x="1170" y="573">coef:</text><text class="q" x="1170" y="589">1.36e−03</text>
<text class="q" x="300" y="744">q−val:</text><text class="q" x="300" y="759">7.18e−01</text><text class="q" x="300" y="775">coef:</text><text class="q" x="300" y="791">−3.25e−04</text>
<text class="q" x="588" y="744">q−val:</text><text class="q" x="588" y="759">5.80e−01</text><text class="q" x="588" y="775">coef:</text><text class="q" x="588" y="791">−2.40e−04</text>
<text class="q" x="875" y="744">q−val:</text><text class="q" x="875" y="759">2.92e−01</text><text class="q" x="875" y="775">coef:</text><text class="q" x="875" y="791">2.22e−03</text>
<text class="qb" x="1170" y="744">q−val:</text><text class="qb" x="1170" y="759">1.29e−01</text><text class="q" x="1170" y="775">coef:</text><text class="q" x="1170" y="791">−1.79e−04</text>
<text class="qb" x="300" y="946">q−val:</text><text class="qb" x="300" y="961">6.40e−02</text><text class="q" x="300" y="977">coef:</text><text class="q" x="300" y="993">−2.95e−03</text>
<text class="qb" x="588" y="946">q−val:</text><text class="qb" x="588" y="961">6.40e−02</text><text class="q" x="588" y="977">coef:</text><text class="q" x="588" y="993">−3.18e−03</text>
<text class="qb" x="875" y="946">q−val:</text><text class="qb" x="875" y="961">7.91e−02</text><text class="q" x="875" y="977">coef:</text><text class="q" x="875" y="993">−3.84e−04</text>
<text class="qb" x="1170" y="946">q−val:</text><text class="qb" x="1170" y="961">1.89e−01</text><text class="q" x="1170" y="977">coef:</text><text class="q" x="1170" y="993">−3.25e−03</text>
<text class="qb" x="300" y="1147">q−val:</text><text class="qb" x="300" y="1162">1.29e−01</text><text class="q" x="300" y="1178">coef:</text><text class="q" x="300" y="1194">−7.99e−03</text>
<text class="q" x="588" y="1147">q−val:</text><text class="q" x="588" y="1162">3.97e−01</text><text class="q" x="588" y="1178">coef:</text><text class="q" x="588" y="1194">−6.19e−04</text>
<text class="q" x="875" y="1147">q−val:</text><text class="q" x="875" y="1162">3.97e−01</text><text class="q" x="875" y="1178">coef:</text><text class="q" x="875" y="1194">−6.58e−04</text>
<text class="q" x="1170" y="1147">q−val:</text><text class="q" x="1170" y="1162">3.97e−01</text><text class="q" x="1170" y="1178">coef:</text><text class="q" x="1170" y="1194">−1.35e−03</text>
</g>

<g class="lb">
<g transform="translate(134,625) rotate(-45)"><text>− Respiratory</text><text x="0" y="13">Support</text></g>
<g transform="translate(239,625) rotate(-45)"><text>+ Respiratory</text><text x="0" y="13">Support</text></g>
<g transform="translate(418,625) rotate(-45)"><text>− Respiratory</text><text x="0" y="13">Support</text></g>
<g transform="translate(527,625) rotate(-45)"><text>+ Respiratory</text><text x="0" y="13">Support</text></g>
<g transform="translate(705,625) rotate(-45)"><text>− Respiratory</text><text x="0" y="13">Support</text></g>
<g transform="translate(814,625) rotate(-45)"><text>+ Respiratory</text><text x="0" y="13">Support</text></g>
<g transform="translate(1000,625) rotate(-45)"><text>− Respiratory</text><text x="0" y="13">Support</text></g>
<g transform="translate(1111,625) rotate(-45)"><text>+ Respiratory</text><text x="0" y="13">Support</text></g>

<g transform="translate(134,826) rotate(-45)"><text>− Respiratory</text><text x="0" y="13">Support</text></g>
<g transform="translate(239,826) rotate(-45)"><text>+ Respiratory</text><text x="0" y="13">Support</text></g>
<g transform="translate(418,826) rotate(-45)"><text>− Respiratory</text><text x="0" y="13">Support</text></g>
<g transform="translate(527,826) rotate(-45)"><text>+ Respiratory</text><text x="0" y="13">Support</text></g>
<g transform="translate(705,826) rotate(-45)"><text>− Respiratory</text><text x="0" y="13">Support</text></g>
<g transform="translate(814,826) rotate(-45)"><text>+ Respiratory</text><text x="0" y="13">Support</text></g>
<g transform="translate(1000,826) rotate(-45)"><text>− Respiratory</text><text x="0" y="13">Support</text></g>
<g transform="translate(1111,826) rotate(-45)"><text>+ Respiratory</text><text x="0" y="13">Support</text></g>

<g transform="translate(134,1027) rotate(-45)"><text>− Respiratory</text><text x="0" y="13">Support</text></g>
<g transform="translate(239,1027) rotate(-45)"><text>+ Respiratory</text><text x="0" y="13">Support</text></g>
<g transform="translate(418,1027) rotate(-45)"><text>− Respiratory</text><text x="0" y="13">Support</text></g>
<g transform="translate(527,1027) rotate(-45)"><text>+ Respiratory</text><text x="0" y="13">Support</text></g>
<g transform="translate(705,1027) rotate(-45)"><text>− Respiratory</text><text x="0" y="13">Support</text></g>
<g transform="translate(814,1027) rotate(-45)"><text>+ Respiratory</text><text x="0" y="13">Support</text></g>
<g transform="translate(1000,1027) rotate(-45)"><text>− Respiratory</text><text x="0" y="13">Support</text></g>
<g transform="translate(1111,1027) rotate(-45)"><text>+ Respiratory</text><text x="0" y="13">Support</text></g>

<g transform="translate(134,1228) rotate(-45)"><text>− Respiratory</text><text x="0" y="13">Support</text></g>
<g transform="translate(239,1228) rotate(-45)"><text>+ Respiratory</text><text x="0" y="13">Support</text></g>
<g transform="translate(418,1228) rotate(-45)"><text>− Respiratory</text><text x="0" y="13">Support</text></g>
<g transform="translate(527,1228) rotate(-45)"><text>+ Respiratory</text><text x="0" y="13">Support</text></g>
<g transform="translate(705,1228) rotate(-45)"><text>− Respiratory</text><text x="0" y="13">Support</text></g>
<g transform="translate(814,1228) rotate(-45)"><text>+ Respiratory</text><text x="0" y="13">Support</text></g>
<g transform="translate(1000,1228) rotate(-45)"><text>− Respiratory</text><text x="0" y="13">Support</text></g>
<g transform="translate(1111,1228) rotate(-45)"><text>+ Respiratory</text><text x="0" y="13">Support</text></g>
</g>
</svg>
</body></html>
